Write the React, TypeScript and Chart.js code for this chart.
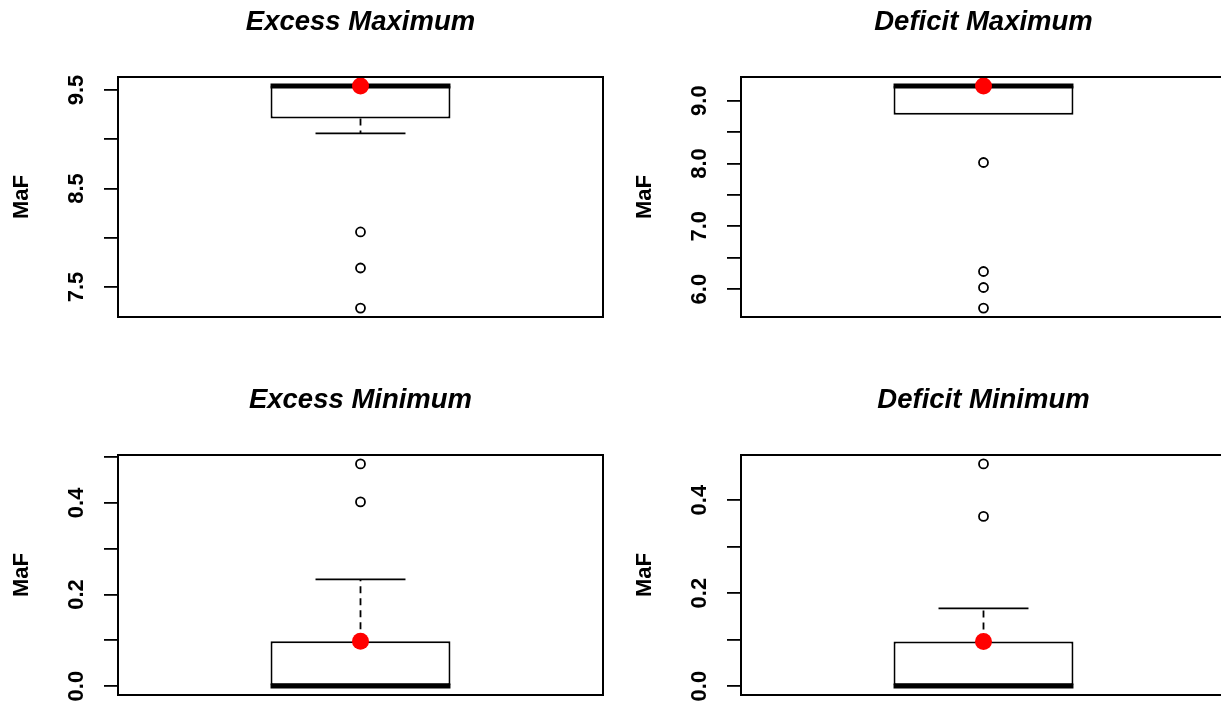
import React, { useEffect, useRef } from "react";
import { Chart, registerables } from "chart.js";

Chart.register(...registerables);

const FONT = "'Liberation Sans', Arial, Helvetica, sans-serif";

// ---- data ----
const panelTitles = ["Excess Maximum", "Deficit Maximum", "Excess Minimum", "Deficit Minimum"];
const yAxisTitle = "MaF";

const lowerWhisker = [9.06, 8.777, 0.0, 0.0];
const lowerQuartile = [9.212, 8.777, 0.0, 0.0];
const medians = [9.542, 9.235, 0.0, 0.0];
const upperQuartile = [9.542, 9.235, 0.098, 0.096];
const upperWhisker = [9.542, 9.235, 0.233, 0.167];
const highlighted = [9.542, 9.235, 0.098, 0.096];

const outliersExcessMax = [8.059, 7.693, 7.286];
const outliersDeficitMax = [8.016, 6.281, 6.026, 5.698];
const outliersExcessMin = [0.485, 0.402];
const outliersDeficitMin = [0.478, 0.365];

const tickValuesExcessMax = [7.5, 8.0, 8.5, 9.0, 9.5];
const tickLabelsExcessMax = ["7.5", "", "8.5", "", "9.5"];
const tickValuesDeficitMax = [6.0, 6.5, 7.0, 7.5, 8.0, 8.5, 9.0];
const tickLabelsDeficitMax = ["6.0", "", "7.0", "", "8.0", "", "9.0"];
const tickValuesExcessMin = [0.0, 0.1, 0.2, 0.3, 0.4, 0.5];
const tickLabelsExcessMin = ["0.0", "", "0.2", "", "0.4", ""];
const tickValuesDeficitMin = [0.0, 0.1, 0.2, 0.3, 0.4];
const tickLabelsDeficitMin = ["0.0", "", "0.2", "", "0.4"];

const outlierSets = [outliersExcessMax, outliersDeficitMax, outliersExcessMin, outliersDeficitMin];
const tickValueSets = [tickValuesExcessMax, tickValuesDeficitMax, tickValuesExcessMin, tickValuesDeficitMin];
const tickLabelSets = [tickLabelsExcessMax, tickLabelsDeficitMax, tickLabelsExcessMin, tickLabelsDeficitMin];

// ---- layout ----
const CANVAS_W = 721;
const CANVAS_H = 345;
const panelPositions = [
  { left: 0, top: 0 },
  { left: 623, top: 0 },
  { left: 0, top: 378 },
  { left: 623, top: 378 },
];

function makeBoxPlugin(i: number) {
  return {
    id: "rbox" + i,
    afterDatasetDraw(chart: any, args: any) {
      if (args.index !== 0) return;
      const ctx = chart.ctx;
      const ys = chart.scales.y;
      const bar = chart.getDatasetMeta(0).data[0];
      if (!bar) return;
      const cx = bar.x;
      const half = bar.width / 2;
      const py = (v: number) => ys.getPixelForValue(v);
      const line = (x1: number, y1: number, x2: number, y2: number) => {
        ctx.beginPath();
        ctx.moveTo(x1, y1);
        ctx.lineTo(x2, y2);
        ctx.stroke();
      };
      ctx.save();
      ctx.strokeStyle = "#000";
      ctx.lineWidth = 1.8;
      ctx.lineCap = "butt";
      ctx.setLineDash([7, 5]);
      if (upperWhisker[i] > upperQuartile[i]) line(cx, py(upperQuartile[i]), cx, py(upperWhisker[i]));
      if (lowerWhisker[i] < lowerQuartile[i]) line(cx, py(lowerQuartile[i]), cx, py(lowerWhisker[i]));
      ctx.setLineDash([]);
      if (upperWhisker[i] > upperQuartile[i])
        line(cx - half / 2, py(upperWhisker[i]), cx + half / 2, py(upperWhisker[i]));
      if (lowerWhisker[i] < lowerQuartile[i])
        line(cx - half / 2, py(lowerWhisker[i]), cx + half / 2, py(lowerWhisker[i]));
      ctx.lineWidth = 5;
      line(cx - half, py(medians[i]), cx + half, py(medians[i]));
      ctx.restore();
    },
    afterDraw(chart: any) {
      const { left, top, right, bottom } = chart.chartArea;
      const ctx = chart.ctx;
      ctx.save();
      ctx.strokeStyle = "#000";
      ctx.lineWidth = 2;
      ctx.strokeRect(left, top, right - left, bottom - top);
      ctx.restore();
    },
  };
}

function buildConfig(i: number): any {
  const outs = outlierSets[i];
  const vals = [lowerWhisker[i], upperWhisker[i], lowerQuartile[i], upperQuartile[i], medians[i], ...outs];
  const lo = Math.min(...vals);
  const hi = Math.max(...vals);
  const ext = 0.04 * (hi - lo);
  const tv = tickValueSets[i];
  const tl = tickLabelSets[i];
  const cat = panelTitles[i];
  return {
    type: "bar",
    data: {
      labels: [cat],
      datasets: [
        {
          type: "bar",
          data: [[lowerQuartile[i], upperQuartile[i]]],
          backgroundColor: "#ffffff",
          borderColor: "#000000",
          borderWidth: 2,
          borderSkipped: false,
          barPercentage: 1,
          categoryPercentage: 0.371,
          order: 3,
        },
        {
          type: "line",
          data: outs.map((v) => ({ x: cat, y: v })),
          showLine: false,
          pointStyle: "circle",
          pointRadius: 4.5,
          pointBorderWidth: 1.8,
          pointBorderColor: "#000000",
          pointBackgroundColor: "#ffffff",
          borderColor: "#000000",
          backgroundColor: "#ffffff",
          order: 2,
        },
        {
          type: "line",
          data: [{ x: cat, y: highlighted[i] }],
          showLine: false,
          pointStyle: "circle",
          pointRadius: 8.5,
          pointBorderWidth: 0,
          pointBorderColor: "#ff0000",
          pointBackgroundColor: "#ff0000",
          borderColor: "#ff0000",
          backgroundColor: "#ff0000",
          order: 1,
        },
      ],
    },
    options: {
      responsive: false,
      animation: false,
      events: [],
      layout: { padding: { left: 0, right: 0, top: 0, bottom: 28 } },
      plugins: {
        legend: { display: false },
        tooltip: { enabled: false },
        title: {
          display: true,
          text: panelTitles[i],
          color: "#000000",
          font: { family: FONT, size: 27.5, weight: "bold", style: "italic", lineHeight: 1 },
          padding: { top: 9, bottom: 40.5 },
        },
      },
      scales: {
        x: { type: "category", display: false, offset: true },
        y: {
          type: "linear",
          position: "left",
          min: lo - ext,
          max: hi + ext,
          afterBuildTicks: (s: any) => {
            s.ticks = tv.map((v) => ({ value: v }));
          },
          afterFit: (s: any) => {
            s.width = 118;
          },
          ticks: {
            autoSkip: false,
            minRotation: 90,
            maxRotation: 90,
            padding: 12,
            crossAlign: "center",
            color: "#000000",
            font: { family: FONT, size: 22, weight: "bold", lineHeight: 1 },
            callback: (_v: any, k: number) => tl[k],
          },
          grid: {
            display: true,
            drawOnChartArea: false,
            drawTicks: true,
            tickLength: 14,
            color: "#000000",
            lineWidth: 1.8,
          },
          border: { display: false },
          title: {
            display: true,
            text: yAxisTitle,
            color: "#000000",
            font: { family: FONT, size: 22, weight: "bold", lineHeight: 1 },
            padding: { top: 11, bottom: 0 },
          },
        },
        yRightSpace: {
          type: "linear",
          position: "right",
          display: true,
          min: lo - ext,
          max: hi + ext,
          afterFit: (s: any) => {
            s.width = 118;
          },
          ticks: { display: false },
          grid: { display: false, drawTicks: false },
          border: { display: false },
          title: { display: false },
        },
      },
    },
    plugins: [makeBoxPlugin(i)],
  };
}

function Panel({ idx }: { idx: number }) {
  const ref = useRef<HTMLCanvasElement | null>(null);
  useEffect(() => {
    const canvas = ref.current;
    if (!canvas) return;
    const chart = new Chart(canvas, buildConfig(idx));
    return () => chart.destroy();
  }, [idx]);
  const pos = panelPositions[idx];
  return (
    <canvas
      ref={ref}
      width={CANVAS_W}
      height={CANVAS_H}
      style={{ position: "absolute", left: pos.left, top: pos.top, width: CANVAS_W, height: CANVAS_H }}
    />
  );
}

export default function App() {
  return (
    <div
      style={{
        position: "absolute",
        left: 0,
        top: 0,
        width: 1221,
        height: 702,
        overflow: "hidden",
        background: "#ffffff",
      }}
    >
      {[0, 1, 2, 3].map((i) => (
        <Panel key={i} idx={i} />
      ))}
    </div>
  );
}
